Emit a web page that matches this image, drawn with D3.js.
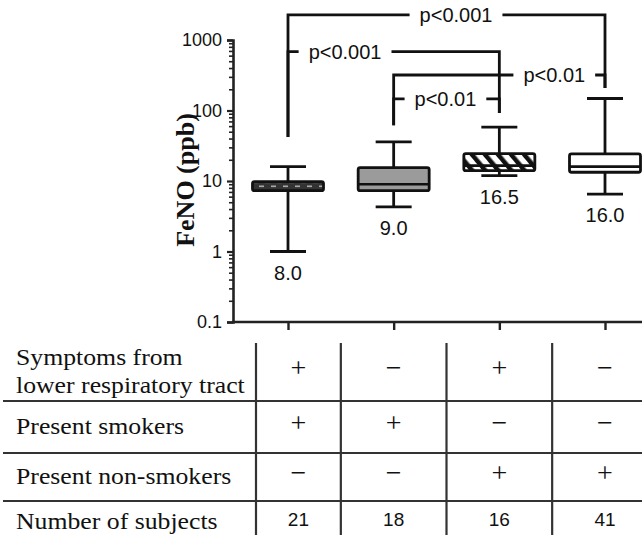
<!DOCTYPE html>
<meta charset="utf-8">
<script src="https://d3js.org/d3.v7.min.js"></script>
<style>
body { margin: 0; background: #fff; }
svg { display: block; }
.sans { font-family: "Liberation Sans", Arial, sans-serif; }
.serif { font-family: "Liberation Serif", "Times New Roman", serif; }
</style>
<body>
<div class="chart"></div>
<script>

// box plot summaries (FeNO, ppb)
var groups = ["sym+ smk+", "sym- smk+", "sym+ non", "sym- non"];
var mins    = [1.0, 4.3, 11.9, 6.5];
var q1s     = [7.3, 7.3, 14.0, 13.3];
var medians = [8.0, 9.0, 16.5, 16.0];
var q3s     = [9.8, 15.5, 24.5, 24.2];
var maxs    = [16, 36, 58, 148];
var medianLabels = ["8.0", "9.0", "16.5", "16.0"];

var yTicks = [0.1, 1, 10, 100, 1000];

// significance brackets: groups compared, label, bracket level (ppb), label place along bracket
var comparisons = [
  {a: 0, b: 3, label: "p<0.001", level: 2265, at: 0.53},
  {a: 0, b: 2, label: "p<0.001", level: 683,  at: 0.27},
  {a: 1, b: 3, label: "p<0.01",  level: 319,  at: 0.76},
  {a: 1, b: 2, label: "p<0.01",  level: 146,  at: 0.49}
];
// where each group's bracket leg ends (ppb)
var legEnds = [42, 62, 92, 208];

// table under the chart
var rowLabels = [
  ["Symptoms from", "lower respiratory tract"],
  ["Present smokers"],
  ["Present non-smokers"],
  ["Number of subjects"]
];
var rowCells = [
  ["+", "\u2212", "+", "\u2212"],
  ["+", "+", "\u2212", "\u2212"],
  ["\u2212", "\u2212", "+", "+"],
  ["21", "18", "16", "41"]
];

var width = 642, height = 535;

var svg = d3.select(".chart").append("svg")
    .attr("width", width)
    .attr("height", height);

var defs = svg.append("defs");

// dark box with light dashes
var pDots = defs.append("pattern")
    .attr("id", "dots")
    .attr("patternUnits", "userSpaceOnUse")
    .attr("width", 12).attr("height", 9)
    .attr("y", 0);
pDots.append("rect").attr("width", 12).attr("height", 9).attr("fill", "#333");
pDots.append("rect").attr("x", 1).attr("y", 1.5).attr("width", 5).attr("height", 1.6).attr("fill", "#aaa");
pDots.append("rect").attr("x", 7).attr("y", 5.5).attr("width", 5).attr("height", 1.6).attr("fill", "#aaa");

// diagonal hatch
var pHatch = defs.append("pattern")
    .attr("id", "hatch")
    .attr("patternUnits", "userSpaceOnUse")
    .attr("width", 10).attr("height", 10)
    .attr("patternTransform", "rotate(-40)");
pHatch.append("rect").attr("width", 10).attr("height", 10).attr("fill", "#fff");
pHatch.append("rect").attr("width", 4.5).attr("height", 10).attr("fill", "#111");

var boxFills = ["url(#dots)", "#9b9b9b", "url(#hatch)", "#fff"];

var x = d3.scalePoint()
    .domain(d3.range(groups.length))
    .range([288, 605]);

var y = d3.scaleLog()
    .domain([0.1, 1000])
    .range([322, 40]);

var axisX = 233;
var boxW = 71, capW = 36;

// y axis, major + minor ticks
var minor = y.ticks().filter(function(d) { return yTicks.indexOf(d) < 0; });

svg.append("g")
    .attr("transform", "translate(" + axisX + ",0)")
    .call(d3.axisLeft(y).tickValues(minor).tickSize(4).tickFormat(""))
    .call(function(g) { g.select(".domain").remove(); })
    .selectAll("line").attr("stroke", "#222").attr("stroke-width", 1.6);

var yAxis = svg.append("g")
    .attr("transform", "translate(" + axisX + ",0)")
    .call(d3.axisLeft(y).tickValues(yTicks).tickSize(6).tickPadding(5)
      .tickFormat(function(d) { return String(d); }));
yAxis.select(".domain").attr("stroke", "#222").attr("stroke-width", 2.6);
yAxis.selectAll(".tick line").attr("stroke", "#222").attr("stroke-width", 2.2);
yAxis.selectAll("text")
    .attr("class", "sans")
    .attr("font-size", 18).attr("fill", "#111");

// y label
svg.append("text")
    .attr("class", "serif")
    .attr("transform", "translate(194,180) rotate(-90)")
    .attr("text-anchor", "middle")
    .attr("font-size", 26)
    .attr("font-weight", "bold")
    .attr("fill", "#111")
    .text("FeNO (ppb)");

// bottom axis
svg.append("line")
    .attr("x1", axisX - 1).attr("x2", width)
    .attr("y1", y(0.1)).attr("y2", y(0.1))
    .attr("stroke", "#222").attr("stroke-width", 2.6);

var xAxis = svg.append("g")
    .attr("transform", "translate(0," + y(0.1) + ")")
    .call(d3.axisBottom(x).tickSize(8).tickFormat(""));
xAxis.select(".domain").remove();
xAxis.selectAll("line").attr("stroke", "#222").attr("stroke-width", 2.4);

// boxes
var box = svg.selectAll(".box")
    .data(groups)
    .enter().append("g")
    .attr("class", "box");

function whisker(sel, from, to) {
  sel.append("line")
      .attr("x1", function(d, i) { return x(i); })
      .attr("x2", function(d, i) { return x(i); })
      .attr("y1", function(d, i) { return y(from[i]); })
      .attr("y2", function(d, i) { return y(to[i]); })
      .attr("stroke", "#111").attr("stroke-width", 2.8);
  sel.append("line")
      .attr("x1", function(d, i) { return x(i) - capW / 2; })
      .attr("x2", function(d, i) { return x(i) + capW / 2; })
      .attr("y1", function(d, i) { return y(to[i]); })
      .attr("y2", function(d, i) { return y(to[i]); })
      .attr("stroke", "#111").attr("stroke-width", 2.8);
}
whisker(box, q3s, maxs);
whisker(box, q1s, mins);

box.append("rect")
    .attr("x", function(d, i) { return x(i) - boxW / 2; })
    .attr("y", function(d, i) { return y(q3s[i]); })
    .attr("width", boxW)
    .attr("height", function(d, i) { return y(q1s[i]) - y(q3s[i]); })
    .attr("rx", 2)
    .attr("fill", function(d, i) { return boxFills[i]; })
    .attr("stroke", "#111").attr("stroke-width", 2.8);

box.append("line")
    .attr("x1", function(d, i) { return x(i) - boxW / 2; })
    .attr("x2", function(d, i) { return x(i) + boxW / 2; })
    .attr("y1", function(d, i) { return y(medians[i]); })
    .attr("y2", function(d, i) { return y(medians[i]); })
    .attr("stroke", function(d, i) { return i == 0 ? "none" : "#111"; })
    .attr("stroke-width", 2.6);

box.append("text")
    .attr("class", "sans")
    .attr("x", function(d, i) { return x(i); })
    .attr("y", function(d, i) { return y(mins[i]) + 21; })
    .attr("dy", "0.36em")
    .attr("text-anchor", "middle")
    .attr("font-size", 20)
    .attr("fill", "#111")
    .text(function(d, i) { return medianLabels[i]; });

// significance brackets
var br = svg.selectAll(".bracket")
    .data(comparisons)
    .enter().append("g")
    .attr("class", "bracket");

br.each(function(c) {
  var g = d3.select(this);
  var x1 = x(c.a), x2 = x(c.b), ly = y(c.level);
  var lx = x1 + (x2 - x1) * c.at;
  var t = g.append("text")
      .attr("class", "sans")
      .attr("x", lx).attr("y", ly)
      .attr("dy", "0.36em")
      .attr("text-anchor", "middle")
      .attr("font-size", 20)
      .attr("fill", "#111")
      .text(c.label);
  var half = t.node().getComputedTextLength() / 2 + 10;
  var line = d3.line();
  g.append("path")
      .attr("d", line([[x1, y(legEnds[c.a])], [x1, ly], [lx - half, ly]]))
      .attr("fill", "none").attr("stroke", "#111").attr("stroke-width", 2.8);
  g.append("path")
      .attr("d", line([[lx + half, ly], [x2, ly], [x2, y(legEnds[c.b])]]))
      .attr("fill", "none").attr("stroke", "#111").attr("stroke-width", 2.8);
});

// table
var rowEdges = [343, 401, 453, 501, 543];
var colEdges = [256].concat(d3.range(1, groups.length).map(function(i) {
  return (x(i - 1) + x(i)) / 2;
}));
colEdges.push(x(groups.length - 1) + x.step() / 2);

var table = svg.append("g");

table.selectAll(".hline")
    .data(rowEdges.slice(1, -1))
    .enter().append("line")
    .attr("x1", 3).attr("x2", width)
    .attr("y1", function(d) { return d; })
    .attr("y2", function(d) { return d; })
    .attr("stroke", "#333").attr("stroke-width", 2.2);

table.selectAll(".vline")
    .data(colEdges.slice(0, -1))
    .enter().append("line")
    .attr("x1", function(d) { return d; })
    .attr("x2", function(d) { return d; })
    .attr("y1", rowEdges[0]).attr("y2", height)
    .attr("stroke", "#333").attr("stroke-width", 2.2);

rowLabels.forEach(function(lines, r) {
  var mid = (rowEdges[r] + rowEdges[r + 1]) / 2;
  var n = lines.length;
  lines.forEach(function(s, k) {
    var by = mid + 7 + (k - (n - 1) / 2) * 28;
    table.append("text")
        .attr("class", "serif")
        .attr("transform", "translate(16," + by + ") scale(1.12,1)")
        .attr("font-size", 23)
        .attr("fill", "#111")
        .text(s);
  });
  rowCells[r].forEach(function(s, c) {
    var cx = (colEdges[c] + colEdges[c + 1]) / 2;
    var isNum = r == rowCells.length - 1;
    table.append("text")
        .attr("class", isNum ? "sans" : "serif")
        .attr("x", cx)
        .attr("y", mid - 3)
        .attr("dy", isNum ? "0.36em" : "0.3em")
        .attr("text-anchor", "middle")
        .attr("font-size", isNum ? 19 : 28)
        .attr("fill", "#111")
        .text(s);
  });
});

</script>
</body>
</html>
